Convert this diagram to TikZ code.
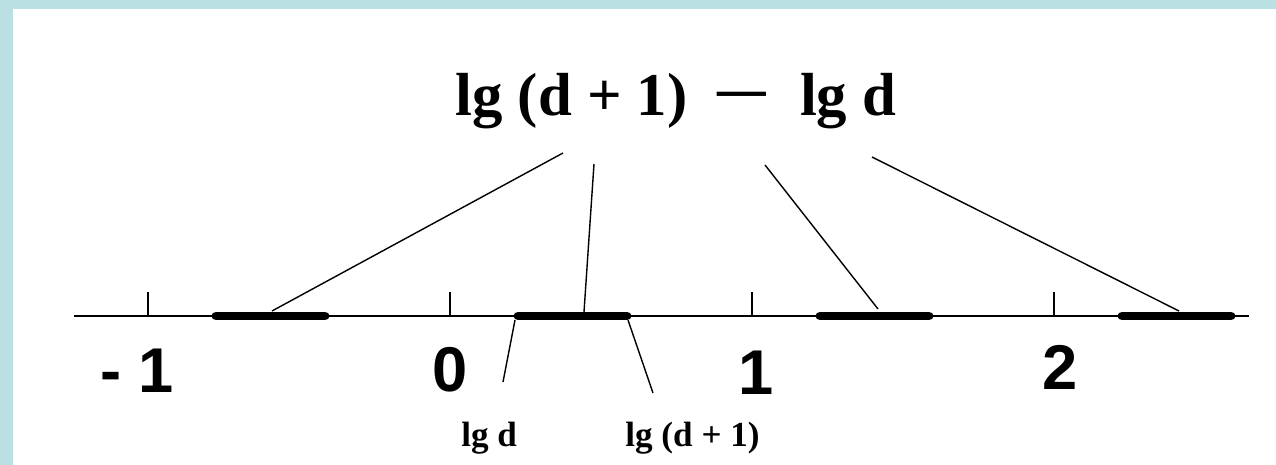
\documentclass[tikz,border=0pt]{standalone}
\usepackage{fontspec}
\setmainfont{Liberation Serif}
\newfontfamily\digitfont{Liberation Sans}
\usetikzlibrary{positioning}
\definecolor{framecyan}{HTML}{BAE0E3}

\begin{document}
\begin{tikzpicture}[
  x=0.02cm, y=-0.02cm,
  axisline/.style={line width=1.1pt},
  tick/.style={line width=0.8pt},
  interval/.style={line width=5.1pt, line cap=round},
  link/.style={line width=0.8pt},
  num/.style={inner sep=0pt, anchor=base, font=\digitfont\bfseries\fontsize{36pt}{36pt}\selectfont},
  big/.style={inner sep=0pt, anchor=base west, font=\bfseries\fontsize{34.6pt}{34.6pt}\selectfont},
  small/.style={inner sep=0pt, anchor=base west, font=\bfseries\fontsize{20pt}{20pt}\selectfont}
]
  \useasboundingbox (0,0) rectangle (1276,465);
  \fill[white] (0,0) rectangle (1276,465);
  \fill[framecyan] (0,0) rectangle (1276,9);
  \fill[framecyan] (0,0) rectangle (13,465);

  % number line
  \coordinate (left) at (74,316);
  \coordinate (right) at (1249,316);
  \draw[axisline] (left) -- (right);
  \draw[tick] (148,316) -- (148,292);
  \draw[tick] (450,316) -- (450,292);
  \draw[tick] (752,316) -- (752,292);
  \draw[tick] (1054,316) -- (1054,292);
  \draw[interval] (216,316) -- (325,316);
  \draw[interval] (518,316) -- (627,316);
  \draw[interval] (820,316) -- (929,316);
  \draw[interval] (1122,316) -- (1231,316);

  \node[num] (mone) at (137,393) {- 1};
  \node[num] (zero) at (450,392) {0};
  \node[num] (one) at (756,395) {1};
  \node[num] (two) at (1060,390) {2};

  % title and its links
  \node[big] (diff) at (455,116) {lg (d + 1)\hspace{0.5em}\raisebox{4.5pt}{\scalebox{0.8}[1]{—}}\hspace{0.55em}lg d};
  \coordinate (t1) at (563,153);
  \coordinate (t2) at (594,164);
  \coordinate (t3) at (765,165);
  \coordinate (t4) at (872,157);
  \coordinate (s1) at (272,311);
  \coordinate (s2) at (584,312);
  \coordinate (s3) at (878,309);
  \coordinate (s4) at (1179,311);
  \draw[link] (t1) -- (s1);
  \draw[link] (t2) -- (s2);
  \draw[link] (t3) -- (s3);
  \draw[link] (t4) -- (s4);

  % ends of one interval
  \node[small] (lgd) at (461,447) {lg d};
  \node[small] (lgdp) at (625,447) {lg (d + 1)};
  \coordinate (a) at (515,320);
  \coordinate (b) at (628,320);
  \coordinate (ae) at (503,382);
  \coordinate (be) at (653,393);
  \draw[link] (a) -- (ae);
  \draw[link] (b) -- (be);
\end{tikzpicture}
\end{document}
